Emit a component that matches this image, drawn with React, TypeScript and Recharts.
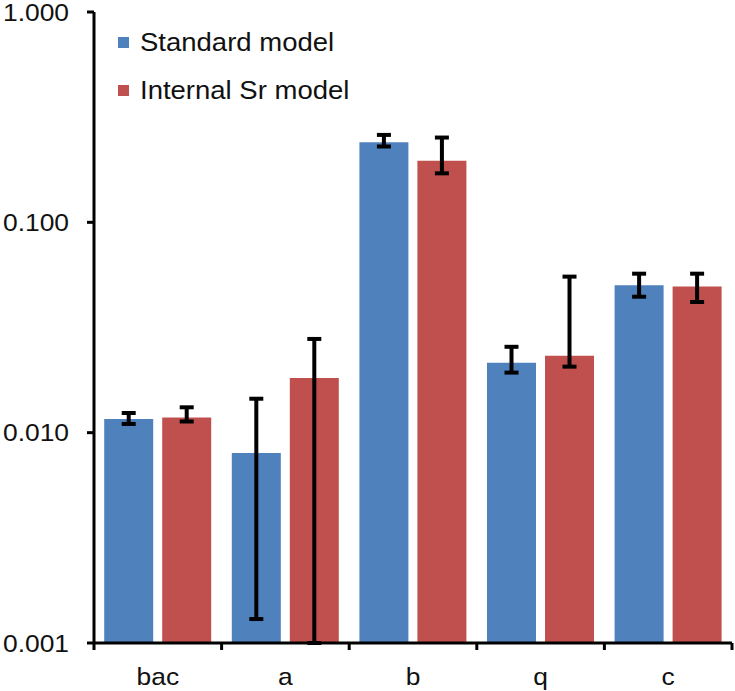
import { BarChart, Bar, XAxis, YAxis, ErrorBar, Legend } from "recharts";

const categories = ["bac", "a", "b", "q", "c"];
const seriesNames = ["Standard model", "Internal Sr model"];
const standardValues = [0.0116, 0.008, 0.2404, 0.0215, 0.0502];
// [minus, plus]
const standardErrors = [
  [0.0006, 0.0008],
  [0.0067, 0.0065],
  [0.011, 0.02],
  [0.0022, 0.0041],
  [0.0059, 0.0068],
];
const internalValues = [0.0118, 0.0182, 0.196, 0.0232, 0.0495];
const internalErrors = [
  [0.0005, 0.0014],
  [0.0172, 0.0097],
  [0.025, 0.057],
  [0.0026, 0.032],
  [0.0077, 0.0075],
];
const yTicks = [0.001, 0.01, 0.1, 1];

const COLORS = ["#4F81BD", "#C0504D"];
const W = 735;
const H = 691;
const MARGIN = { top: 12, right: 3, bottom: 0, left: 0 };
const Y_W = 94;
const CAT_W = (W - MARGIN.right - MARGIN.left - Y_W) / categories.length;
const FONT = "'Liberation Sans', Arial, sans-serif";
const FS = 24;
const SX = 1.1;

const data = categories.map((name, i) => ({
  name,
  standard: standardValues[i],
  standardErr: standardErrors[i],
  internal: internalValues[i],
  internalErr: internalErrors[i],
}));

const YTick = ({ x, y, payload }: any) => (
  <g transform={`translate(${x},${y})`}>
    <text
      transform={`scale(${SX},1)`}
      textAnchor="end"
      dy="0.36em"
      fontSize={FS}
      fontFamily={FONT}
      fill="#111"
    >
      {Number(payload.value).toFixed(3)}
    </text>
  </g>
);

const XTick = ({ x, y, payload, index }: any) => (
  <g>
    <line x1={x - CAT_W / 2} x2={x - CAT_W / 2} y1={y} y2={y + 7} stroke="#000" strokeWidth={3} />
    {index === categories.length - 1 && (
      <line x1={x + CAT_W / 2} x2={x + CAT_W / 2} y1={y} y2={y + 7} stroke="#000" strokeWidth={3} />
    )}
    <g transform={`translate(${x},${y + 42})`}>
      <text transform={`scale(${SX},1)`} textAnchor="middle" fontSize={FS} fontFamily={FONT} fill="#111">
        {payload.value}
      </text>
    </g>
  </g>
);

const LegendBox = () => (
  <div style={{ fontFamily: FONT }}>
    {seriesNames.map((n, i) => (
      <div key={n} style={{ display: "flex", alignItems: "center", height: 48 }}>
        <span style={{ width: 11, height: 11, background: COLORS[i], marginRight: 11, display: "inline-block" }} />
        <span
          style={{
            fontSize: 25,
            color: "#111",
            display: "inline-block",
            transform: `scaleX(${SX})`,
            transformOrigin: "left center",
            whiteSpace: "nowrap",
          }}
        >
          {n}
        </span>
      </div>
    ))}
  </div>
);

export default function App() {
  return (
    <div style={{ position: "absolute", left: 0, top: 0, width: W, height: H, background: "#fff" }}>
      <BarChart width={W} height={H} data={data} margin={MARGIN} barCategoryGap="8%" barGap={9}>
        <XAxis
          dataKey="name"
          height={48}
          axisLine={{ stroke: "#000", strokeWidth: 3 }}
          tickLine={false}
          tickSize={0}
          tickMargin={0}
          tick={<XTick />}
          interval={0}
        />
        <XAxis
          xAxisId="top"
          dataKey="name"
          orientation="top"
          height={0}
          tick={false}
          tickLine={false}
          axisLine={{ stroke: "#000", strokeWidth: 3 }}
        />
        <YAxis
          scale="log"
          domain={[0.001, 1]}
          ticks={yTicks}
          allowDataOverflow
          width={Y_W}
          interval={0}
          axisLine={{ stroke: "#000", strokeWidth: 3 }}
          tickLine={{ stroke: "#000", strokeWidth: 3 }}
          tickSize={7}
          tickMargin={18}
          tick={<YTick />}
        />
        <YAxis
          yAxisId="right"
          orientation="right"
          width={0}
          scale="log"
          domain={[0.001, 1]}
          tick={false}
          tickLine={false}
          axisLine={{ stroke: "#000", strokeWidth: 3 }}
        />
        <Legend
          layout="vertical"
          align="center"
          verticalAlign="middle"
          wrapperStyle={{ left: 118, top: 18, width: "auto" }}
          content={<LegendBox />}
        />
        <Bar dataKey="standard" name={seriesNames[0]} fill={COLORS[0]} isAnimationActive={false}>
          <ErrorBar dataKey="standardErr" width={7} strokeWidth={4} stroke="#000" direction="y" />
        </Bar>
        <Bar dataKey="internal" name={seriesNames[1]} fill={COLORS[1]} isAnimationActive={false}>
          <ErrorBar dataKey="internalErr" width={7} strokeWidth={4} stroke="#000" direction="y" />
        </Bar>
      </BarChart>
    </div>
  );
}
